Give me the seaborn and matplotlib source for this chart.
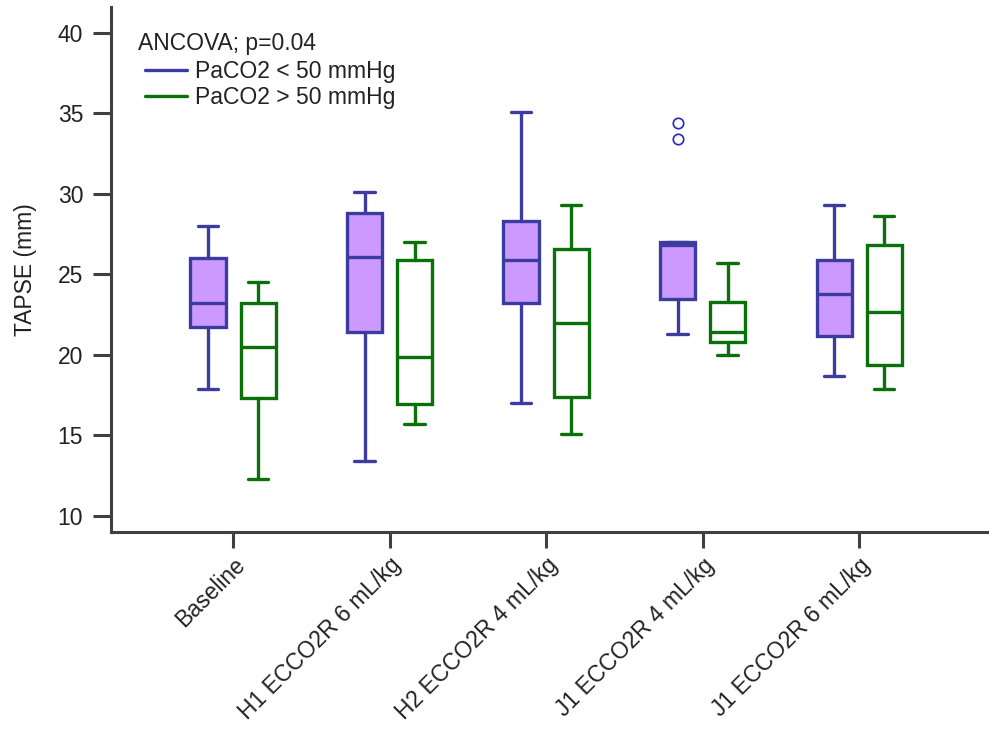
import numpy as np
import matplotlib
matplotlib.use("Agg")
import matplotlib.pyplot as plt
from matplotlib.lines import Line2D
import seaborn as sns

categories = ["Baseline", "H1 ECCO2R 6 mL/kg", "H2 ECCO2R 4 mL/kg",
              "J1 ECCO2R 4 mL/kg", "J1 ECCO2R 6 mL/kg"]
groups = ["PaCO2 < 50 mmHg", "PaCO2 > 50 mmHg"]

# box stats: whisker low, q1, median, q3, whisker high
low_whis = [[17.9, 13.4, 17.0, 21.3, 18.7],
            [12.3, 15.7, 15.1, 20.0, 17.9]]
q1 = [[21.7, 21.4, 23.2, 23.5, 21.2],
      [17.35, 16.95, 17.4, 20.8, 19.4]]
med = [[23.2, 26.1, 25.9, 26.8, 23.8],
       [20.5, 19.85, 22.0, 21.4, 22.65]]
q3 = [[26.0, 28.8, 28.3, 27.0, 25.9],
      [23.2, 25.9, 26.6, 23.3, 26.8]]
high_whis = [[28.0, 30.1, 35.1, 27.0, 29.3],
             [24.5, 27.0, 29.3, 25.7, 28.6]]
outliers = [[[], [], [], [34.4, 33.4], []],
            [[], [], [], [], []]]

edge_colors = ["#3c3ca0", "#0a700a"]
fill_colors = ["#cc99ff", "white"]
offsets = [-0.16, 0.16]

sns.set_style("ticks")
plt.rcParams["font.family"] = ["Liberation Sans", "DejaVu Sans"]

fig = plt.figure(figsize=(9.89, 7.29), dpi=100)
ax = fig.add_axes([0.1122, 0.2702, 0.8878, 0.7202])

x = np.arange(len(categories))
for g in range(2):
    stats = []
    for i in range(len(categories)):
        stats.append(dict(whislo=low_whis[g][i], q1=q1[g][i], med=med[g][i],
                          q3=q3[g][i], whishi=high_whis[g][i],
                          fliers=outliers[g][i]))
    c = edge_colors[g]
    ax.bxp(stats, positions=x + offsets[g], widths=0.224, capwidths=0.13,
           patch_artist=True, manage_ticks=False,
           boxprops=dict(facecolor=fill_colors[g], edgecolor=c, linewidth=2.4),
           whiskerprops=dict(color=c, linewidth=2.4),
           capprops=dict(color=c, linewidth=2.4),
           medianprops=dict(color=c, linewidth=2.4),
           flierprops=dict(marker="o", markerfacecolor="none",
                           markeredgecolor="#2828c0", markersize=7.5,
                           markeredgewidth=1.2))

ax.set_xlim(-0.78, 4.83)
ax.set_ylim(9.0, 41.6)
ax.set_yticks([10, 15, 20, 25, 30, 35, 40])
ax.set_xticks(x)
ax.set_xticklabels(categories, rotation=45, ha="right",
                   rotation_mode="anchor", fontsize=16.5, color="#222222")
ax.tick_params(axis="y", length=13, width=2.2, color="#404040", pad=7,
               labelsize=16.5, labelcolor="#222222")
ax.tick_params(axis="x", length=11.5, width=2.2, color="#404040", pad=4)
ax.set_ylabel("TAPSE (mm)", fontsize=16.5, color="#222222")
ax.yaxis.set_label_coords(-0.084, 0.5)

sns.despine(ax=ax)
for s in ["left", "bottom"]:
    ax.spines[s].set_linewidth(2.2)
    ax.spines[s].set_color("#404040")

ax.text(0.031, 0.931, "ANCOVA; p=0.04", transform=ax.transAxes,
        fontsize=16.5, color="#222222", va="center", ha="left")
handles = [Line2D([], [], color=c, linewidth=2.4) for c in edge_colors]
ax.legend(handles, groups, loc="upper left", bbox_to_anchor=(0.0387, 0.899),
          frameon=False, fontsize=16.5, borderpad=0, borderaxespad=0,
          handlelength=1.83, handletextpad=0.35, labelspacing=0.12,
          labelcolor="#222222")

fig.savefig("out.png", dpi=100)
